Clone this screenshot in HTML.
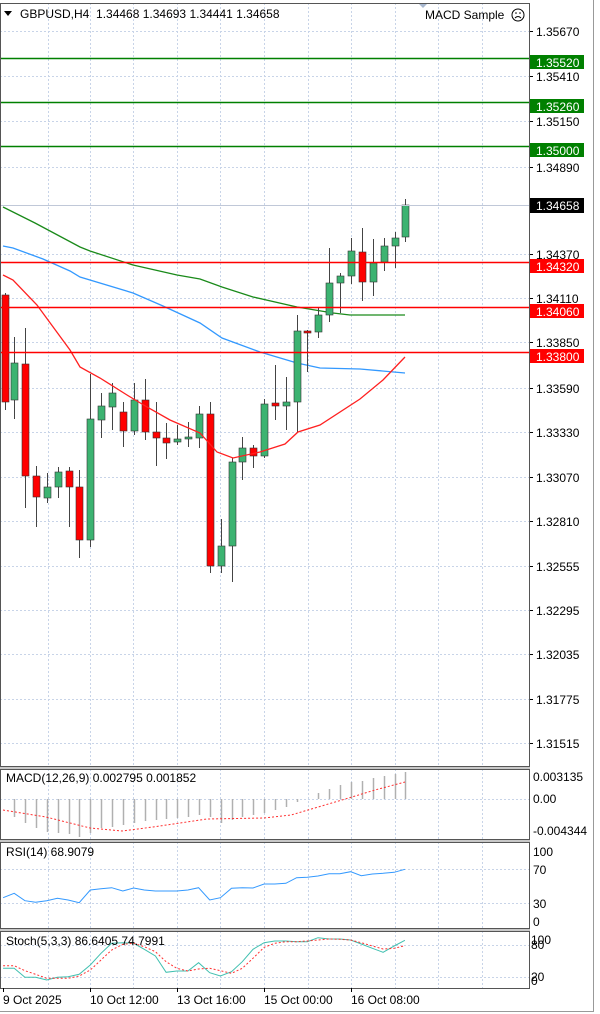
<!DOCTYPE html>
<html><head><meta charset="utf-8"><style>
body{margin:0;background:#fff;width:600px;height:1014px;overflow:hidden;font-family:"Liberation Sans",sans-serif}
svg{display:block}
text{font-family:"Liberation Sans",sans-serif;font-size:12px;fill:#000}
</style></head><body>
<svg id="s" width="600" height="1014" xmlns="http://www.w3.org/2000/svg"></svg>
<script>
const S=document.getElementById('s');let h='';
const R=529;
function L(x1,y1,x2,y2,c,w,d){h+=`<line x1="${x1}" y1="${y1}" x2="${x2}" y2="${y2}" stroke="${c}" stroke-width="${w||1}" ${d?`stroke-dasharray="${d}"`:''}/>`}
function T(x,y,t,c,a){h+=`<text x="${x}" y="${y}" ${c?`style="fill:${c}"`:''} ${a?`text-anchor="${a}"`:''}>${t}</text>`}
function P(pts,c,w,d){h+=`<polyline fill="none" points="${pts.map(p=>p.join(',')).join(' ')}" stroke="${c}" stroke-width="${w||1}" ${d?`stroke-dasharray="${d}"`:''}/>`}
const panels=[[3,766],[769,839],[842,928],[931,988]];
h+=`<rect x="0" y="0" width="600" height="1014" fill="#fff"/>`;
const vx=[48,90,133,177,220,264,308,351,395,438,482];
panels.forEach(p=>vx.forEach(x=>L(x+.5,p[0],x+.5,p[1],'#c8d4e8',1,'2,2')));
const ys=[[31,'1.35670'],[76,'1.35410'],[121,'1.35150'],[167,'1.34890'],[254,'1.34370'],[298,'1.34110'],[342,'1.33850'],[388,'1.33590'],[432,'1.33330'],[477,'1.33070'],[521,'1.32810'],[566,'1.32555'],[610,'1.32295'],[654,'1.32035'],[699,'1.31775'],[743,'1.31515']];
ys.forEach(([y,t])=>{L(0,y+.5,R,y+.5,'#c8d4e8',1,'2,2');L(R,y+.5,R+4,y+.5,'#000');T(536,y+5,t)});
[[799],[869,903],[945,977]].forEach(a=>a.forEach(y=>L(0,y+.5,R,y+.5,'#c8d4e8',1,'2,2')));
const g=[[3,207],[35,223],[80,247],[90,251],[133,265],[177,275],[200,279],[222,287],[253,297],[297,307],[333,313],[350,315],[405,315]];
const b=[[3,246],[13,248],[43,259],[70,271],[80,277],[133,293],[163,306],[200,323],[222,338],[260,352],[297,363],[320,368],[360,369],[405,373]];
const r=[[3,275],[13,280],[37,305],[70,350],[80,367],[100,378],[127,395],[147,407],[170,420],[200,433],[217,452],[233,458],[260,452],[285,444],[298,432],[320,425],[360,399],[383,380],[405,357]];
P(g,'#1a8a1a',1.3);P(b,'#3399ff',1.3);
const C=[[5,0,295,402,293,410],[14,1,363,400,337,419],[25,0,364,476,328,508],[36,0,476,497,466,527],[47,1,487,498,473,503],[58,1,472,487,467,498],[69,0,471,487,467,527],[79,0,487,540,470,558],[90,1,419,540,374,547],[101,1,406,420,393,438],[112,1,393,407,383,430],[123,0,412,431,402,447],[134,1,400,431,383,435],[145,0,400,432,379,440],[156,0,432,438,402,466],[166,0,438,443,423,459],[177,1,439,442,425,445],[188,1,437,439,422,447],[199,1,414,438,406,448],[210,0,414,566,402,573],[221,1,546,566,519,573],[232,1,462,546,458,582],[242,1,448,462,437,480],[253,0,448,456,445,468],[264,1,404,456,399,458],[275,0,403,406,365,420],[286,1,402,406,377,430],[297,1,331,402,315,433],[307,0,331,333,330,372],[318,1,315,332,307,338],[329,1,283,315,248,322],[340,1,276,283,273,313],[351,1,251,276,238,284],[362,0,252,282,228,301],[373,1,263,282,239,296],[384,1,246,262,238,271],[395,1,238,246,232,268],[405,1,205,237,199,242]];
C.forEach(([x,c,bt,bb,wt,wb])=>{L(x+.5,wt,x+.5,wb,'#444');h+=`<rect x="${x-3}" y="${bt}" width="7" height="${Math.max(bb-bt,1)}" fill="${c?'#3cb371':'#ff0000'}" stroke="#333" stroke-width="0.6"/>`});
P(r,'#ff2020',1.3);
[[58,'1.35520'],[102,'1.35260'],[146,'1.35000']].forEach(([y,t])=>{L(0,y+.5,R,y+.5,'#008000',1.5);h+=`<rect x="530" y="${y-3}" width="54" height="14" fill="#008000"/>`;T(536,y+9,t,'#fff')});
[[262,'1.34320'],[307,'1.34060'],[352,'1.33800']].forEach(([y,t])=>{L(0,y+.5,R,y+.5,'#ff0000',1.5);h+=`<rect x="530" y="${y-3}" width="54" height="14" fill="#ff0000"/>`;T(536,y+9,t,'#fff')});
L(0,205.5,R,205.5,'#c0c8d8');h+=`<rect x="530" y="198" width="54" height="15" fill="#000"/>`;T(536,210,'1.34658','#fff');
h+=`<polygon points="4,11 12,11 8,16" fill="#000"/>`;T(20,18,'GBPUSD,H4&#160;&#160;1.34468 1.34693 1.34441 1.34658');
h+=`<polygon points="418,3 428,3 423,8" fill="#a8b8d0"/>`;T(425,19,'MACD Sample');
h+=`<circle cx="518" cy="15" r="6" fill="none" stroke="#000"/><circle cx="516" cy="13" r=".8"/><circle cx="520" cy="13" r=".8"/><path d="M515 18 q3 -3 6 0" fill="none" stroke="#000"/>`;
const mx=C.slice(1).map(c=>c[0]);
const mv=[817,823,828,832,833,834,837,833,828,827,825,823,821,820,819,818,817,815,817,823,820,817,815,813,810,807,802,799,793,789,785,782,781,778,776,774,772];
mx.forEach((x,i)=>L(x+.5,799,x+.5,mv[i],'#b0b0b0',1.5));
P([[3,810],[46,817],[90,828],[122,831],[153,827],[207,819],[264,818],[291,815],[325,805],[352,797],[375,790],[405,782]],'#ff3030',1,'2,2');
T(6,782,'MACD(12,26,9) 0.002795 0.001852');T(533,781,'0.003135');T(533,803,'0.00');T(533,835,'-0.004344');
const rz=[[8,413],[37,400],[65,422],[93,427],[122,422],[150,415],[178,420],[207,428],[236,390],[264,386],[292,383],[321,393],[349,384],[377,390],[406,393],[434,393],[462,393],[491,390],[519,383],[548,420],[576,413],[605,385],[633,383],[661,384],[690,372],[718,372],[747,370],[775,353],[803,352],[831,348],[860,341],[888,341],[916,335],[944,347],[973,342],[1001,340],[1030,337],[1058,328]];
const cv=a=>a.map(([x,y])=>[(x/2.613).toFixed(1),(760+y/3).toFixed(1)]);
P(cv(rz),'#3399ff',1);
T(6,856,'RSI(14) 68.9079');T(533,856,'100');T(533,874,'70');T(533,908,'30');T(533,926,'0');
const sm=[[8,625],[37,625],[65,652],[93,652],[122,660],[150,652],[178,650],[207,643],[236,615],[264,580],[292,550],[321,548],[349,550],[377,568],[406,588],[434,637],[462,633],[491,633],[519,608],[548,638],[576,648],[605,635],[633,605],[661,568],[690,548],[718,543],[747,543],[775,545],[803,545],[831,533],[860,537],[888,537],[916,540],[944,552],[973,565],[1001,577],[1030,558],[1058,541]];
const ss=[[8,617],[37,617],[65,632],[93,643],[122,655],[150,655],[178,655],[207,648],[236,630],[264,600],[292,570],[321,553],[349,550],[377,560],[406,575],[434,605],[462,625],[491,633],[519,627],[548,625],[576,632],[605,640],[633,625],[661,595],[690,562],[718,550],[747,545],[775,545],[803,543],[831,540],[860,537],[888,538],[916,540],[944,548],[973,558],[1001,567],[1030,565],[1058,557]];
P(cv(sm),'#40c0b0',1);P(cv(ss),'#ff3030',1,'2,2');
T(6,945,'Stoch(5,3,3) 86.6405 74.7991');T(531,944,'100');T(531,949,'80');T(531,981,'20');T(531,985,'0');
panels.forEach(p=>h+=`<rect x="0.5" y="${p[0]+.5}" width="${R}" height="${p[1]-p[0]}" fill="none" stroke="#555"/>`);
[[766,769],[839,842],[928,931]].forEach(([a,b2])=>h+=`<rect x="0" y="${a+1}" width="${R+1}" height="${b2-a-1}" fill="#c8c8c8"/>`);
[[3,'9 Oct 2025'],[90,'10 Oct 12:00'],[177,'13 Oct 16:00'],[264,'15 Oct 00:00'],[351,'16 Oct 08:00']].forEach(([x,t])=>{L(x+.5,988,x+.5,992,'#000');T(x,1004,t)});
L(593.5,0,593.5,1011,'#999');L(0,1011.5,594,1011.5,'#999');
S.innerHTML=h;
</script>
</body></html>
